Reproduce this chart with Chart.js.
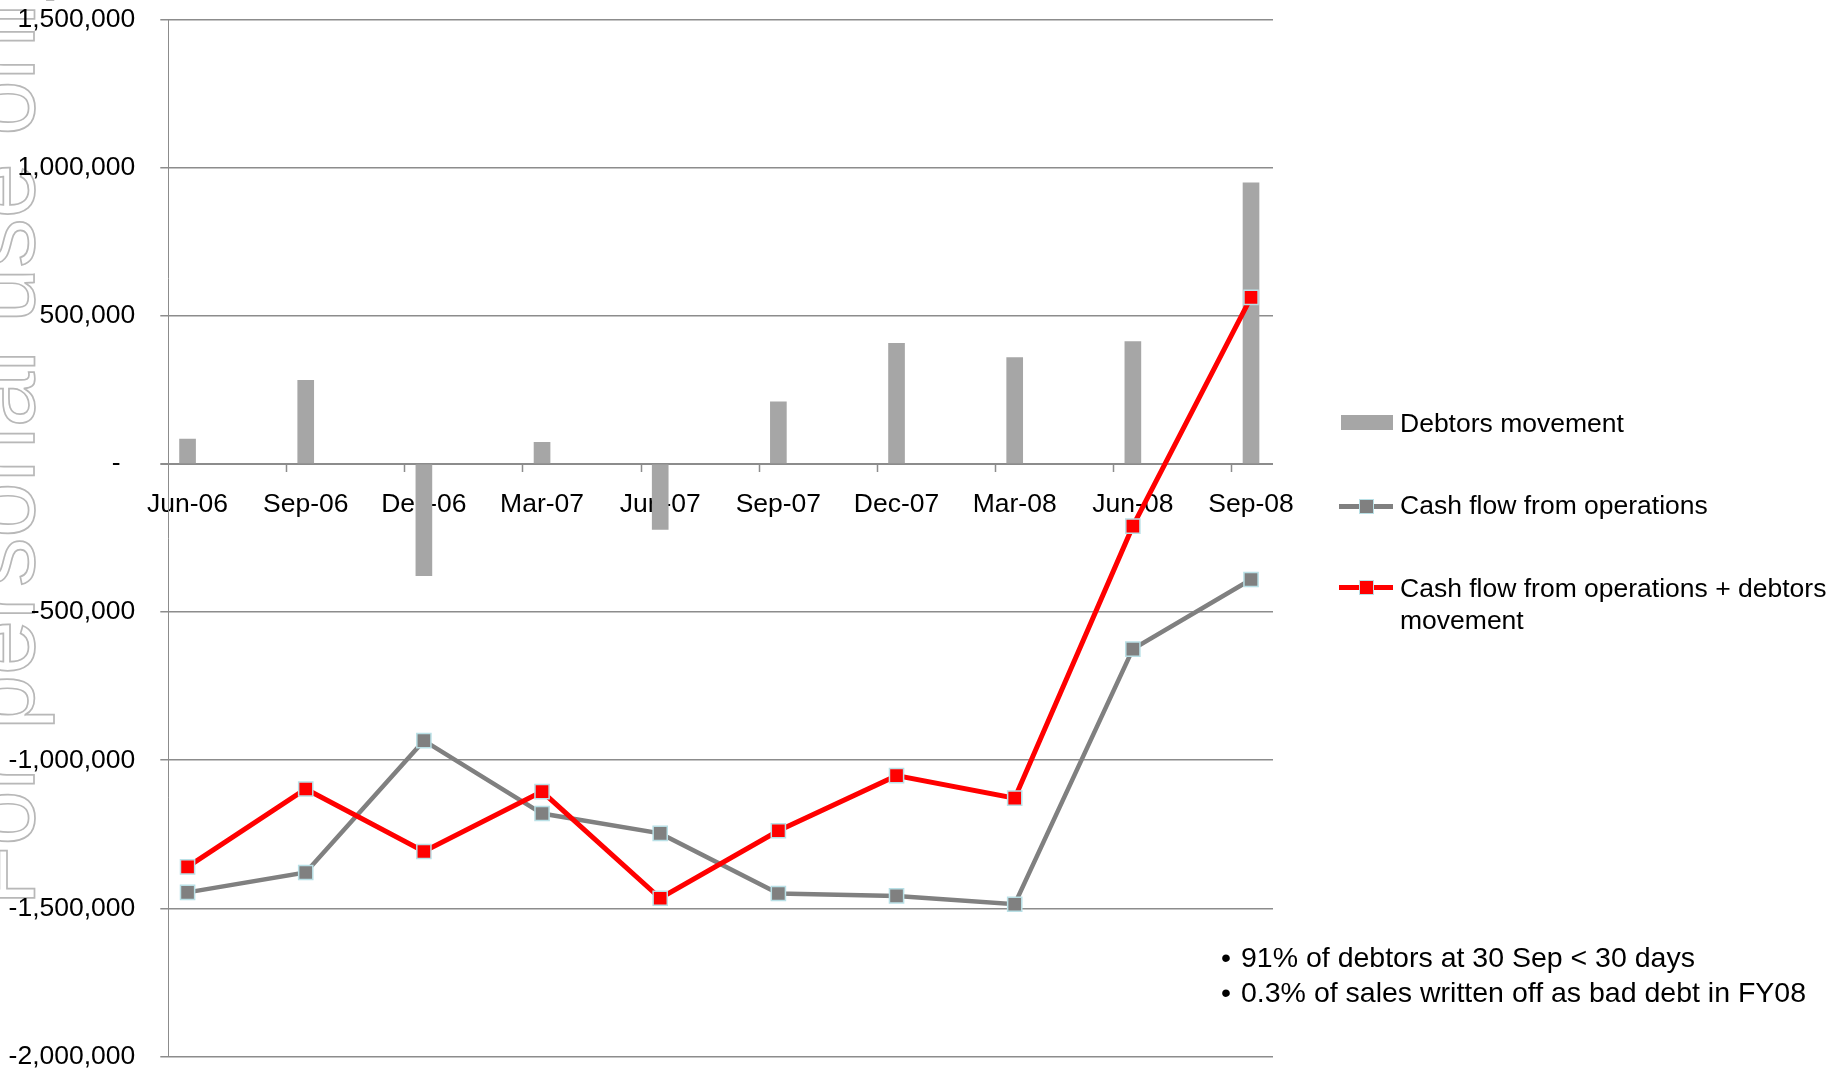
<!DOCTYPE html>
<html>
<head>
<meta charset="utf-8">
<title>Debtors movement and cash flow</title>
<script src="https://cdn.jsdelivr.net/npm/chart.js@4.4.0/dist/chart.umd.min.js"></script>
<style>
  html, body { margin: 0; padding: 0; background: #fff; }
  #wrap { position: relative; width: 1845px; height: 1074px; overflow: hidden; font-family: 'Liberation Sans', Arial, sans-serif; color: #000; }
  #chart { position: absolute; left: 0; top: 0; }
  .lg { position: absolute; font-size: 26.5px; line-height: 32px; white-space: nowrap; }
  .sw { position: absolute; }
  .mk { position: absolute; width: 15px; height: 15px; box-sizing: border-box; border: 1.5px solid #b9e0e6; }
  .note { position: absolute; font-size: 28.5px; line-height: 35.5px; white-space: nowrap; }
</style>
</head>
<body>
<div id="wrap">
  <canvas id="chart" width="1845" height="1074"></canvas>

  <!-- legend -->
  <div class="sw" style="left:1341px; top:415px; width:52px; height:15px; background:#a6a6a6;"></div>
  <div class="lg" style="left:1400px; top:407px;">Debtors movement</div>

  <div class="sw" style="left:1339px; top:503.5px; width:54px; height:5px; background:#808080;"></div>
  <div class="mk" style="left:1358.5px; top:498.5px; background:#808080;"></div>
  <div class="lg" style="left:1400px; top:489px;">Cash flow from operations</div>

  <div class="sw" style="left:1339px; top:584.5px; width:54px; height:5px; background:#ff0000;"></div>
  <div class="mk" style="left:1358.5px; top:579.5px; background:#ff0000;"></div>
  <div class="lg" style="left:1400px; top:571.5px;">Cash flow from operations + debtors<br>movement</div>

  <!-- notes -->
  <div class="note" style="left:1221px; top:939.5px;">•</div>
  <div class="note" style="left:1241px; top:939.5px;">91% of debtors at 30 Sep &lt; 30 days</div>
  <div class="note" style="left:1221px; top:975px;">•</div>
  <div class="note" style="left:1241px; top:975px;">0.3% of sales written off as bad debt in FY08</div>
</div>

<script>
// quarters on the category axis
const categories = ['Jun-06', 'Sep-06', 'Dec-06', 'Mar-07', 'Jun-07', 'Sep-07', 'Dec-07', 'Mar-08', 'Jun-08', 'Sep-08'];

// values
const debtorsMovement = [84000, 282000, -377000, 73000, -221000, 210000, 407000, 359000, 413000, 949000];
const cashFlowOps = [-1446000, -1379000, -934000, -1180000, -1247000, -1450000, -1458000, -1486000, -625000, -390000];
const cashFlowPlusDebtors = [-1360000, -1097000, -1308000, -1106000, -1466000, -1238000, -1052000, -1128000, -210000, 562000];

const yTicks = [-2000000, -1500000, -1000000, -500000, 0, 500000, 1000000, 1500000];

const GRID = '#8c8c8c';
const TICK_OFFSET = 0.834; // excel draws the x tick marks between the dates

const toPoints = (arr) => arr.map((v, i) => ({ x: i, y: v }));

Chart.defaults.font.family = "'Liberation Sans', Arial, sans-serif";
Chart.defaults.font.size = 26.5;
Chart.defaults.color = '#000';

// outlined "for personal use only" stamp down the left edge
const watermark = {
  id: 'watermark',
  beforeDraw(chart) {
    const ctx = chart.ctx;
    ctx.save();
    ctx.translate(34, 906);
    ctx.rotate(-Math.PI / 2);
    ctx.font = "99px 'Liberation Sans', Arial, sans-serif";
    ctx.textAlign = 'left';
    ctx.textBaseline = 'alphabetic';
    ctx.fillStyle = '#fff';
    ctx.strokeStyle = '#b8b8b8';
    ctx.lineWidth = 1.7;
    ctx.fillText('For personal use only', 0, 0);
    ctx.strokeText('For personal use only', 0, 0);
    ctx.restore();
  }
};

// small tick marks hanging off the zero line
const xTickMarks = {
  id: 'xTickMarks',
  beforeDatasetsDraw(chart) {
    const { ctx, scales: { x, y } } = chart;
    const y0 = y.getPixelForValue(0);
    ctx.save();
    ctx.strokeStyle = GRID;
    ctx.lineWidth = 1.5;
    ctx.beginPath();
    for (let i = 0; i < categories.length - 1; i++) {
      const px = Math.round(x.getPixelForValue(i + TICK_OFFSET)) + 0.5;
      ctx.moveTo(px, y0);
      ctx.lineTo(px, y0 + 8);
    }
    ctx.stroke();
    ctx.restore();
  }
};

new Chart(document.getElementById('chart'), {
  type: 'bar',
  plugins: [watermark, xTickMarks],
  data: {
    datasets: [
      {
        type: 'line',
        label: 'Cash flow from operations + debtors movement',
        data: toPoints(cashFlowPlusDebtors),
        borderColor: '#ff0000',
        borderWidth: 5,
        pointStyle: 'rect',
        pointRadius: 10,
        pointBackgroundColor: '#ff0000',
        pointBorderColor: '#b9e0e6',
        pointBorderWidth: 1.5,
        tension: 0,
        order: 1
      },
      {
        type: 'line',
        label: 'Cash flow from operations',
        data: toPoints(cashFlowOps),
        borderColor: '#808080',
        borderWidth: 4.5,
        pointStyle: 'rect',
        pointRadius: 10,
        pointBackgroundColor: '#808080',
        pointBorderColor: '#b9e0e6',
        pointBorderWidth: 1.5,
        tension: 0,
        order: 2
      },
      {
        type: 'bar',
        label: 'Debtors movement',
        data: toPoints(debtorsMovement),
        backgroundColor: '#a6a6a6',
        barThickness: 16,
        order: 3
      }
    ]
  },
  options: {
    responsive: false,
    devicePixelRatio: 1,
    animation: false,
    layout: { padding: { left: 0, right: 572, top: 19.5, bottom: 17.5 } },
    plugins: {
      legend: { display: false },
      tooltip: { enabled: false }
    },
    scales: {
      x: {
        type: 'linear',
        position: { y: 0 },
        offset: false,
        min: -0.163,
        max: 9.186,
        afterBuildTicks: (scale) => { scale.ticks = categories.map((_, i) => ({ value: i })); },
        ticks: {
          padding: 25,
          maxRotation: 0,
          autoSkip: false,
          callback: (v) => categories[v]
        },
        grid: { display: false, drawTicks: false, offset: false },
        border: { display: false }
      },
      y: {
        min: yTicks[0],
        max: yTicks[yTicks.length - 1],
        afterBuildTicks: (scale) => { scale.ticks = yTicks.map((v) => ({ value: v })); },
        afterFit: (scale) => {
          scale.width = 168.3;
          // the tick padding would otherwise push the plot in from top and bottom
          scale.paddingTop = 0;
          scale.paddingBottom = 0;
        },
        ticks: {
          padding: 25,
          callback: (v) => (v === 0 ? '-  ' : v.toLocaleString('en-US'))
        },
        grid: {
          color: GRID,
          lineWidth: (c) => (c.tick && c.tick.value === 0 ? 2 : 1.5),
          tickLength: 8
        },
        border: { display: true, color: GRID, width: 1 }
      }
    }
  }
});
</script>
</body>
</html>
